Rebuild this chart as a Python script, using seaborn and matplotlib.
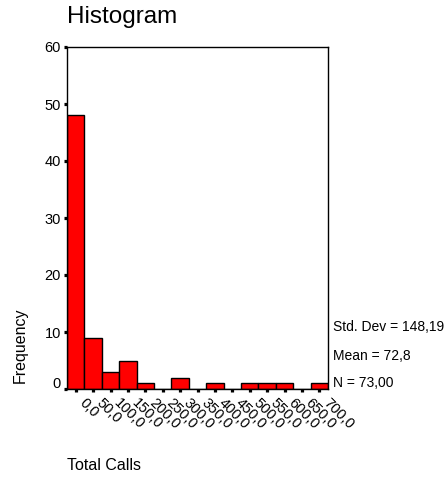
import matplotlib
matplotlib.use("Agg")
import matplotlib.pyplot as plt
import matplotlib.transforms as mtrans
import seaborn as sns
import numpy as np
import pandas as pd

bin_centers = [0, 50, 100, 150, 200, 250, 300, 350, 400, 450, 500, 550, 600, 650, 700]
counts = [48, 9, 3, 5, 1, 0, 2, 0, 1, 0, 1, 1, 1, 0, 1]
tick_labels = ["0,0", "50,0", "100,0", "150,0", "200,0", "250,0", "300,0", "350,0",
               "400,0", "450,0", "500,0", "550,0", "600,0", "650,0", "700,0"]
stats_lines = ["Std. Dev = 148,19", "Mean = 72,8", "N = 73,00"]

df = pd.DataFrame({"calls": bin_centers, "count": counts})

sns.set_theme(style="white")
plt.rcParams['font.family'] = ['Liberation Sans', 'DejaVu Sans']

W, H = 448, 480
fig = plt.figure(figsize=(W / 100, H / 100), dpi=100)
ax = fig.add_axes([67 / W, 1 - 389 / H, (328 - 67) / W, (389 - 47) / H])

sns.histplot(data=df, x="calls", weights="count", binwidth=50, binrange=(-25, 725),
             color="#ff0000", alpha=1, edgecolor="black", linewidth=1.0, ax=ax)

ax.set_xlim(-25, 725)
ax.set_ylim(0, 60)
ax.set_yticks(range(0, 61, 10))
ax.set_xticks(bin_centers)
ax.set_xticklabels(tick_labels, rotation=-45, ha="left", va="top", rotation_mode="anchor")
ax.tick_params(axis="both", direction="out", length=2.5, width=2.3, color="black",
               labelsize=10.5, labelcolor="black", pad=2, bottom=True, left=True)
ax.tick_params(axis="x", pad=5)
ax.set_xlabel("")
ax.set_ylabel("")
for s in ax.spines.values():
    s.set_visible(True)
    s.set_color("black")
    s.set_linewidth(1.0)

off = mtrans.ScaledTranslation(0.11, 0.04, fig.dpi_scale_trans)
for lab in ax.get_xticklabels():
    lab.set_transform(lab.get_transform() + off)
yl = ax.get_yticklabels()
yl[0].set_transform(yl[0].get_transform() + mtrans.ScaledTranslation(0, 0.06, fig.dpi_scale_trans))

fig.text(67 / W, 1 - 17 / H, "Histogram", fontsize=17.5, ha="left", va="center", color="black")
fig.text(20 / W, 1 - 345 / H, "Frequency", fontsize=11.5, rotation=90, ha="center", va="center", color="black")
fig.text(67 / W, 1 - 466 / H, "Total Calls", fontsize=11.5, ha="left", va="center", color="black")
for t, y in zip(stats_lines, [327, 356, 383]):
    fig.text(333 / W, 1 - y / H, t, fontsize=10, ha="left", va="center", color="black")

fig.savefig("out.png", dpi=100, facecolor="white")
